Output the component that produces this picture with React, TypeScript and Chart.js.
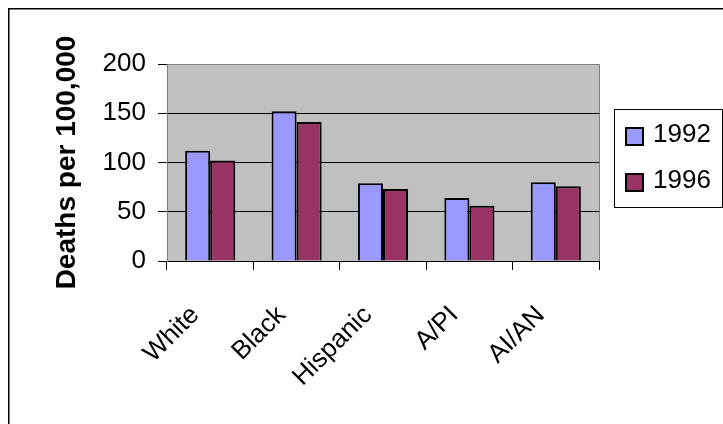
import { useEffect, useRef } from "react";
import { Chart, registerables } from "chart.js";

Chart.register(...registerables);

// Death rates per 100,000 by group, two survey years
const groups = ["White", "Black", "Hispanic", "A/PI", "AI/AN"];
const years = ["1992", "1996"];
const rates1992 = [112, 152, 79, 64, 80];
const rates1996 = [102, 141, 73, 56, 76];
const yTickValues = [0, 50, 100, 150, 200];
const yAxisTitle = "Deaths per 100,000";

const seriesColors = ["#9999FF", "#993366"];
const FONT = '"Liberation Sans", Arial, Helvetica, sans-serif';
const LABEL_SIZE = 26;

// Page frame, grey plot area and its border, drawn under everything else
const plotFrame = {
  id: "plotFrame",
  beforeDraw(chart: any) {
    const { ctx, chartArea: a } = chart;
    ctx.save();
    ctx.strokeStyle = "#000";
    ctx.lineWidth = 1.5;
    ctx.beginPath();
    ctx.moveTo(8.75, chart.height);
    ctx.lineTo(8.75, 8.75);
    ctx.lineTo(chart.width, 8.75);
    ctx.stroke();

    ctx.fillStyle = "#C0C0C0";
    ctx.fillRect(a.left, a.top, a.right - a.left, a.bottom - a.top);
    ctx.strokeStyle = "#808080";
    ctx.lineWidth = 1;
    ctx.strokeRect(
      Math.round(a.left) + 0.5,
      Math.round(a.top) + 0.5,
      Math.round(a.right - a.left),
      Math.round(a.bottom - a.top)
    );
    ctx.restore();
  },
};

// Boxed legend to the right of the plot area
const boxedLegend = {
  id: "boxedLegend",
  afterDraw(chart: any) {
    const { ctx, chartArea: a } = chart;
    const x = Math.round(a.right) + 15;
    const y = Math.round(a.top) + 45;
    const w = 108;
    const h = 98;
    ctx.save();
    ctx.fillStyle = "#fff";
    ctx.fillRect(x, y, w, h);
    ctx.strokeStyle = "#000";
    ctx.lineWidth = 1;
    ctx.strokeRect(x + 0.5, y + 0.5, w, h);

    chart.data.datasets.forEach((ds: any, i: number) => {
      const cy = y + 27 + i * 46;
      ctx.fillStyle = ds.backgroundColor;
      ctx.fillRect(x + 12, cy - 8, 17, 17);
      ctx.strokeStyle = "#000";
      ctx.lineWidth = 2;
      ctx.strokeRect(x + 12, cy - 8, 17, 17);
      ctx.fillStyle = "#000";
      ctx.font = `${LABEL_SIZE}px ${FONT}`;
      ctx.textAlign = "left";
      ctx.textBaseline = "middle";
      ctx.fillText(ds.label, x + 39, cy - 1);
    });
    ctx.restore();
  },
};

export default function App() {
  const canvasRef = useRef<HTMLCanvasElement | null>(null);

  useEffect(() => {
    const canvas = canvasRef.current;
    if (!canvas) return;

    const chart = new Chart(canvas, {
      type: "bar",
      data: {
        labels: groups,
        datasets: [
          {
            label: years[0],
            data: rates1992,
            backgroundColor: seriesColors[0],
            borderColor: "#000",
            borderWidth: 2,
          },
          {
            label: years[1],
            data: rates1996,
            backgroundColor: seriesColors[1],
            borderColor: "#000",
            borderWidth: 2,
          },
        ],
      },
      options: {
        responsive: false,
        animation: false,
        devicePixelRatio: 1,
        layout: { padding: { top: 64, right: 124, bottom: 0, left: 0 } },
        datasets: {
          bar: { categoryPercentage: 0.58, barPercentage: 1 },
        },
        plugins: {
          legend: { display: false },
          tooltip: { enabled: false },
        },
        scales: {
          x: {
            afterFit(scale: any) {
              scale.height = 163;
            },
            grid: {
              display: true,
              drawOnChartArea: false,
              offset: true,
              tickLength: 9,
              tickColor: "#000",
            },
            border: { display: true, color: "#000", width: 1 },
            ticks: {
              minRotation: 45,
              maxRotation: 45,
              autoSkip: false,
              padding: 30,
              labelOffset: -15,
              color: "#000",
              font: { family: FONT, size: LABEL_SIZE },
            },
          },
          y: {
            min: 0,
            max: 200,
            afterFit(scale: any) {
              scale.width = 167;
            },
            afterBuildTicks(scale: any) {
              scale.ticks = yTickValues.map((v) => ({ value: v }));
            },
            grid: {
              color: (c: any) =>
                c.tick && c.tick.value === 200
                  ? "#808080"
                  : c.tick && c.tick.value === 0
                  ? "rgba(0,0,0,0)"
                  : "#000",
              tickColor: "#000",
              tickLength: 9,
            },
            border: { display: true, color: "#808080", width: 1 },
            ticks: {
              padding: 12,
              color: "#000",
              font: { family: FONT, size: LABEL_SIZE },
            },
            title: {
              display: true,
              text: yAxisTitle,
              color: "#000",
              font: { family: FONT, size: 28, weight: "bold" },
              padding: { top: 50, bottom: 0 },
            },
          },
        },
      },
      plugins: [plotFrame, boxedLegend],
    });

    return () => chart.destroy();
  }, []);

  return (
    <div style={{ position: "fixed", left: 0, top: 0, width: 723, height: 424, background: "#fff" }}>
      <canvas ref={canvasRef} width={723} height={424} style={{ display: "block" }} />
    </div>
  );
}
